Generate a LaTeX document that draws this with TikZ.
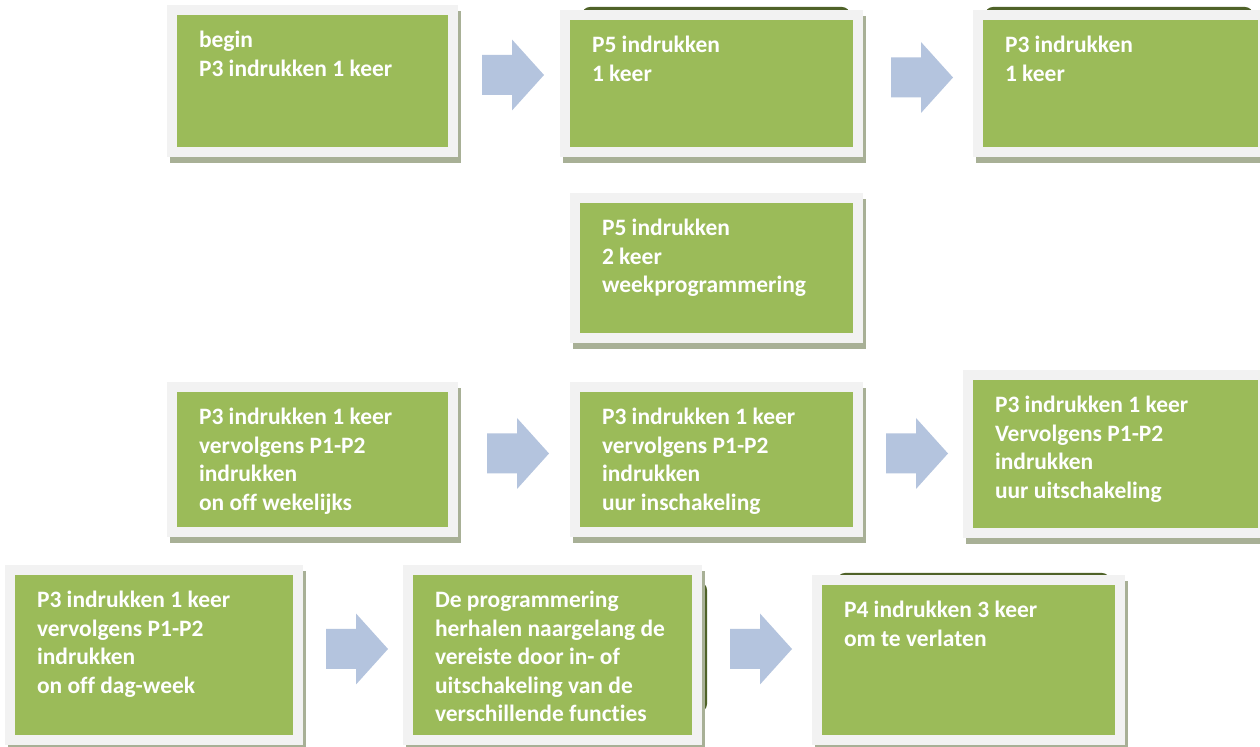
\documentclass[tikz,border=0pt]{standalone}
\usepackage{fontspec}
\setmainfont{Carlito}[Ligatures=NoCommon]
\usepackage{tikz}
\usetikzlibrary{shadows,calc}

\definecolor{stapgroen}{HTML}{9BBB59}
\definecolor{kaderlicht}{HTML}{F2F2F2}
\definecolor{schaduw}{HTML}{A8B096}
\definecolor{pijlblauw}{HTML}{B4C4DE}
\definecolor{donkergroen}{HTML}{4F6228}

\newdimen\stappx \stappx=0.5pt
\newcommand{\stapregels}[3]{\parbox[c][#2\stappx][t]{#1\stappx}{\begin{tabular}[t]{@{}l@{}}#3\end{tabular}}}

\begin{document}
\begin{tikzpicture}[
    x=0.5pt, y=-0.5pt,
    stap/.style={anchor=north west, fill=stapgroen, draw=kaderlicht, line width=5pt,
        inner xsep=13.5pt, inner ysep=9pt, text=white,
        font=\fontsize{11.75pt}{14.25pt}\selectfont\bfseries,
        drop shadow={shadow xshift=1.5pt, shadow yshift=-3pt, fill=schaduw, draw=schaduw, line width=5pt, opacity=1}},
    pijl/.style={fill=pijlblauw, to path={
        let \p1=(\tikztostart.east), \p2=(\tikztotarget.west) in
        ({(\x1+\x2)/2-13.5pt}, {\y1+13pt}) -- ({(\x1+\x2)/2+1.5pt}, {\y1+13pt})
        -- ({(\x1+\x2)/2+1.5pt}, {\y1+20.75pt}) -- ({(\x1+\x2)/2+17.5pt}, {\y1+3pt})
        -- ({(\x1+\x2)/2+1.5pt}, {\y1-14.75pt}) -- ({(\x1+\x2)/2+1.5pt}, {\y1-7pt})
        -- ({(\x1+\x2)/2-13.5pt}, {\y1-7pt}) -- cycle}}
]
\path[use as bounding box, fill=white] (0,0) rectangle (1260,747);

% vormen die achter de stappen liggen
\fill[donkergroen, rounded corners=4pt] (582,7) rectangle (850,150);
\fill[donkergroen, rounded corners=4pt] (985,7) rectangle (1253,150);
\fill[donkergroen, rounded corners=4pt] (420,582) rectangle (707,712);
\fill[donkergroen, rounded corners=4pt] (837,573) rectangle (1110,700);

% stappen
\node[stap] (begin) at (167,5) {\stapregels{227}{106}{begin\\P3 indrukken 1 keer}};
\node[stap] (p5een) at (560,10) {\stapregels{239}{101}{P5 indrukken\\1 keer}};
\node[stap] (p3een) at (973,10) {\stapregels{231}{101}{P3 indrukken\\1 keer}};
\node[stap] (p5twee) at (570,193) {\stapregels{229}{104}{P5 indrukken\\2 keer\\weekprogrammering}};
\node[stap] (wekelijks) at (167,382) {\stapregels{227}{109}{P3 indrukken 1 keer\\vervolgens P1-P2\\indrukken\\on off wekelijks}};
\node[stap] (inschakeling) at (570,382) {\stapregels{229}{109}{P3 indrukken 1 keer\\vervolgens P1-P2\\indrukken\\uur inschakeling}};
\node[stap] (uitschakeling) at (963,370) {\stapregels{241}{122}{P3 indrukken 1 keer\\Vervolgens P1-P2\\indrukken\\uur uitschakeling}};
\node[stap] (dagweek) at (5,565) {\stapregels{234}{134}{P3 indrukken 1 keer\\vervolgens P1-P2\\indrukken\\on off dag-week}};
\node[stap] (herhalen) at (403,565) {\stapregels{235}{134}{De programmering\\herhalen naargelang de\\vereiste door in- of\\uitschakeling van de\\verschillende functies}};
\node[stap] (verlaten) at (812,575) {\stapregels{249}{124}{P4 indrukken 3 keer\\om te verlaten}};

% pijlen
\path[pijl] (begin) to (p5een);
\path[pijl] (p5een) to (p3een);
\path[pijl] (wekelijks) to (inschakeling);
\path[pijl] (inschakeling) to (uitschakeling);
\path[pijl] (dagweek) to (herhalen);
\path[pijl] (herhalen) to (verlaten);
\end{tikzpicture}
\end{document}
